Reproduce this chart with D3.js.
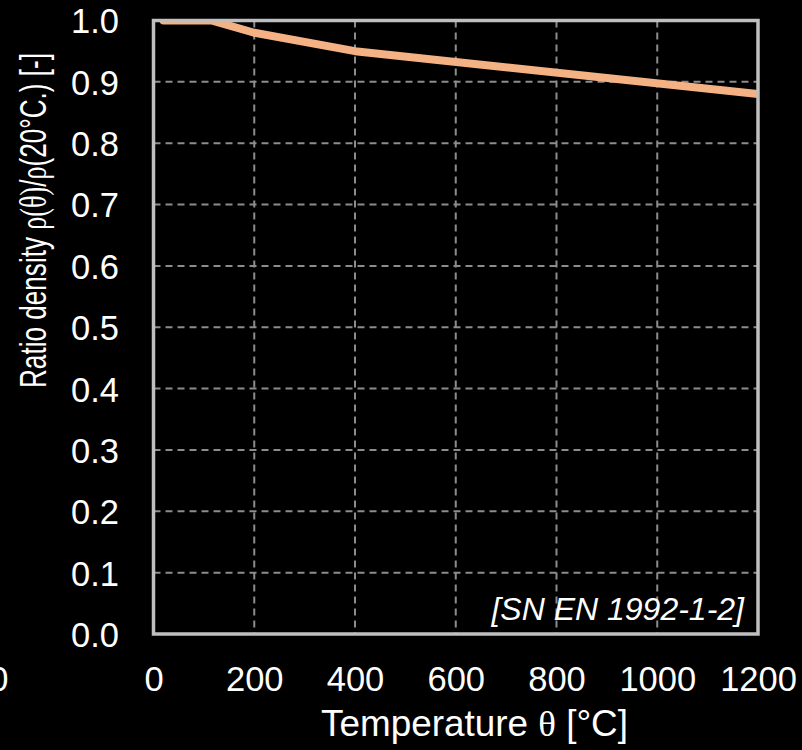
<!DOCTYPE html>
<html>
<head>
<meta charset="utf-8">
<script src="https://cdn.jsdelivr.net/npm/d3@7"></script>
<style>
  html, body { margin: 0; padding: 0; background: #000; }
  svg { display: block; }
  text { font-family: "Liberation Sans", Arial, sans-serif; fill: #fff; }
</style>
</head>
<body>
<svg id="chart" width="802" height="750"></svg>
<script>
// Data (EN 1992-1-2 density ratio)
const temperatures = [20, 115, 200, 400, 1200];
const densityRatio = [1.0, 1.0, 0.98, 0.95, 0.88];
const xTicks = [0, 200, 400, 600, 800, 1000, 1200];
const yTicks = [0.0, 0.1, 0.2, 0.3, 0.4, 0.5, 0.6, 0.7, 0.8, 0.9, 1.0];
const sourceLabel = "[SN EN 1992-1-2]";

const svg = d3.select("#chart");
const x = d3.scaleLinear().domain([0, 1200]).range([153.5, 758]);
const y = d3.scaleLinear().domain([0, 1]).range([634, 20.5]);

svg.append("rect").attr("width", 802).attr("height", 750).attr("fill", "#000");

// clip
svg.append("clipPath").attr("id", "plotclip")
  .append("rect")
  .attr("x", x(0)).attr("y", y(1))
  .attr("width", x(1200) - x(0)).attr("height", y(0) - y(1));

// grid
const grid = svg.append("g");
grid.selectAll(".vg").data(xTicks.filter(d => d > 0 && d < 1200)).join("line")
  .attr("x1", d => x(d)).attr("x2", d => x(d))
  .attr("y1", y(1)).attr("y2", y(0))
  .attr("stroke", "#8c8c8c").attr("stroke-width", 2).attr("stroke-dasharray", "7,5");
grid.selectAll(".hg").data(yTicks.filter(d => d > 0.001 && d < 0.999)).join("line")
  .attr("x1", x(0)).attr("x2", x(1200))
  .attr("y1", d => y(d)).attr("y2", d => y(d))
  .attr("stroke", "#8c8c8c").attr("stroke-width", 2).attr("stroke-dasharray", "7,5");

// line
const pts = temperatures.map((t, i) => [t, densityRatio[i]]);
svg.append("path")
  .attr("clip-path", "url(#plotclip)")
  .attr("d", d3.line().x(d => x(d[0])).y(d => y(d[1]))(pts))
  .attr("fill", "none").attr("stroke", "#F4B183").attr("stroke-width", 8)
  .attr("stroke-linecap", "round").attr("stroke-linejoin", "round");

// frame
svg.append("rect")
  .attr("x", x(0)).attr("y", y(1))
  .attr("width", x(1200) - x(0)).attr("height", y(0) - y(1))
  .attr("fill", "none").attr("stroke", "#bfbfbf").attr("stroke-width", 3.5);

// axes (labels only)
const xAxis = d3.axisBottom(x).tickValues(xTicks).tickSize(0).tickPadding(0).tickFormat(d3.format("d"));
const gx = svg.append("g").attr("transform", `translate(0,${y(0)})`).call(xAxis);
gx.select(".domain").remove();
gx.selectAll("text").attr("fill", "#fff").attr("font-size", 34.5)
  .attr("font-family", "Liberation Sans, Arial, sans-serif")
  .attr("dy", null).attr("y", 57);

const yAxis = d3.axisLeft(y).tickValues(yTicks).tickSize(0).tickPadding(0).tickFormat(d3.format(".1f"));
const gy = svg.append("g").attr("transform", `translate(119,0)`).call(yAxis);
gy.select(".domain").remove();
gy.selectAll("text").attr("fill", "#fff").attr("font-size", 34.5)
  .attr("font-family", "Liberation Sans, Arial, sans-serif")
  .attr("x", 0).attr("dy", "0.36em");

// partial clipped label at left edge
svg.append("text").attr("x", 8.5).attr("y", 691).attr("text-anchor", "end")
  .attr("font-size", 34.5).text("0");

// source label
svg.append("text").attr("x", 744).attr("y", 620).attr("text-anchor", "end")
  .attr("font-size", 32).attr("font-style", "italic").text(sourceLabel);

// x title
const xt = svg.append("text").attr("x", 321).attr("y", 736).attr("text-anchor", "start")
  .attr("font-size", 36).attr("textLength", 307).attr("lengthAdjust", "spacingAndGlyphs");
xt.append("tspan").text("Temperature ");
xt.append("tspan").attr("font-family", "Liberation Serif, Times New Roman, serif").text("θ");
xt.append("tspan").text(" [°C]");

// y title
const yt = svg.append("text")
  .attr("transform", `translate(45.5,220.5) rotate(-90)`)
  .attr("text-anchor", "middle").attr("font-size", 37)
  .attr("textLength", 335).attr("lengthAdjust", "spacingAndGlyphs");
yt.append("tspan").text("Ratio density ");
yt.append("tspan").attr("font-family", "Liberation Serif, Times New Roman, serif").text("ρ(θ)");
yt.append("tspan").text("/");
yt.append("tspan").attr("font-family", "Liberation Serif, Times New Roman, serif").text("ρ");
yt.append("tspan").text("(20°C.) [-]");
</script>
</body>
</html>
